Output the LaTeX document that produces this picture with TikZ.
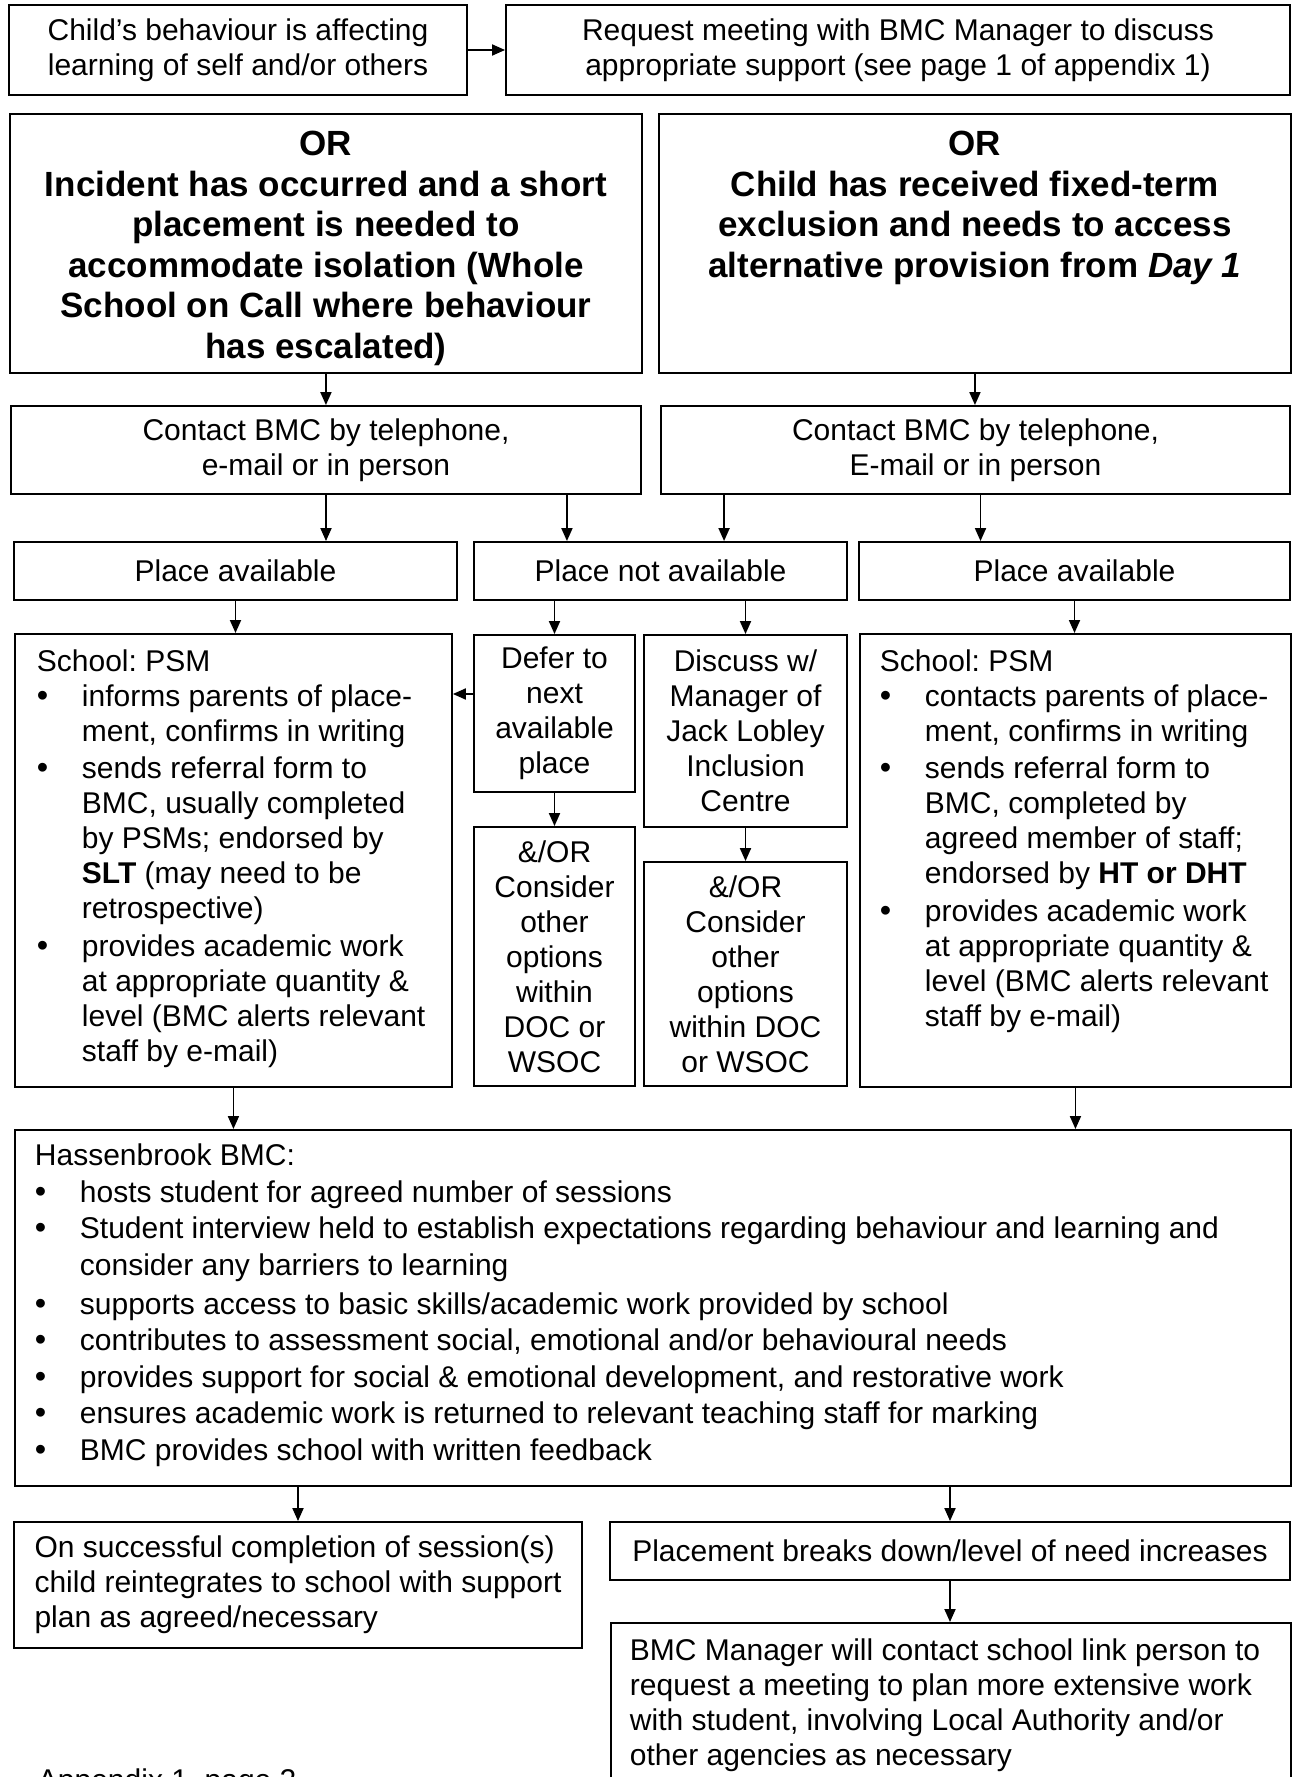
\documentclass[tikz,border=0pt]{standalone}
\usepackage{fontspec}
\setmainfont{Liberation Sans}
\usetikzlibrary{arrows.meta, calc}
\frenchspacing
\NewDocumentCommand{\bitem}{m}{\par\noindent\makebox[18pt][l]{\fontsize{13pt}{14pt}\selectfont\textbullet}\begin{tabular}[t]{@{}l@{}}#1\end{tabular}}
\NewDocumentCommand{\topfill}{mmm}{\parbox[c][#2][t]{#1}{#3}}

\begin{document}
\begin{tikzpicture}[x=0.4pt, y=-0.4pt, line width=0.75pt,
        every node/.style={font=\fontsize{12pt}{14pt}\selectfont},
        box/.style={draw, align=center, inner sep=0pt},
        panel/.style={draw, anchor=north west},
        orbox/.style={panel, inner xsep=4pt, inner ysep=7pt,
                        font=\fontsize{14pt}{16.2pt}\selectfont\bfseries},
        arr/.style={-{Triangle[width=4.4pt, length=5.2pt]}}]
        \useasboundingbox (0,0) rectangle (1294,1777);

        % first row
        \node[box, minimum width=183.2pt, minimum height=36pt] (child) at (238,50)
            {Child’s behaviour is affecting\\learning of self and/or others};
        \node[box, minimum width=313.6pt, minimum height=36pt] (request) at (898,50)
            {Request meeting with BMC Manager to discuss\\appropriate support (see page 1 of appendix 1)};

        % the two OR routes
        \node[orbox] (orL) at (9,113) {\topfill{244.8pt}{89.6pt}{\centering
            OR\\Incident has occurred and a short\\placement is needed to\\accommodate isolation (Whole\\School on Call where behaviour\\has escalated)}};
        \node[orbox] (orR) at (658,113) {\topfill{244.8pt}{89.6pt}{\centering
            OR\\Child has received fixed-term\\exclusion and needs to access\\alternative provision from \textit{Day 1}}};

        \node[box, minimum width=252pt, minimum height=35.2pt] (contL) at (326,450)
            {Contact BMC by telephone,\\e-mail or in person};
        \node[box, minimum width=251.6pt, minimum height=35.2pt] (contR) at (975.5,450)
            {Contact BMC by telephone,\\E-mail or in person};

        \node[box, minimum width=177.2pt, minimum height=23.2pt] (availL) at (235.5,571) {Place available};
        \node[box, minimum width=149.2pt, minimum height=23.2pt] (notavail) at (660.5,571) {Place not available};
        \node[box, minimum width=172.4pt, minimum height=23.2pt] (availR) at (1074.5,571) {Place available};

        % school side
        \node[panel, inner xsep=8.8pt, inner ysep=6.3pt] (schoolL) at (14,633) {\topfill{157.2pt}{168.6pt}{%
            School: PSM
            \bitem{informs parents of place-\\ment, confirms in writing}
            \bitem{sends referral form to\\BMC, usually completed\\by PSMs; endorsed by\\\textbf{SLT} (may need to be\\retrospective)}
            \bitem{provides academic work\\at appropriate quantity \&\\level (BMC alerts relevant\\staff by e-mail)}}};
        \node[panel, inner xsep=8pt, inner ysep=6.3pt] (schoolR) at (859,633) {\topfill{156.4pt}{168.6pt}{%
            School: PSM
            \bitem{contacts parents of place-\\ment, confirms in writing}
            \bitem{sends referral form to\\BMC, completed by\\agreed member of staff;\\endorsed by \textbf{HT or DHT}}
            \bitem{provides academic work\\at appropriate quantity \&\\level (BMC alerts relevant\\staff by e-mail)}}};

        % no place
        \node[box, minimum width=64.4pt, minimum height=62.8pt] (defer) at (554.5,713.5)
            {Defer to\\next\\available\\place};
        \node[box, minimum width=81.2pt, minimum height=76.8pt] (discuss) at (745.5,731)
            {Discuss w/\\Manager of\\Jack Lobley\\Inclusion\\Centre};
        \node[box, minimum width=64.4pt, minimum height=103.6pt] (optL) at (554.5,956.5)
            {\&/OR\\Consider\\other\\options\\within\\DOC or\\WSOC};
        \node[box, minimum width=81.2pt, minimum height=89.6pt] (optR) at (745.5,974)
            {\&/OR\\Consider\\other\\options\\within DOC\\or WSOC};

        % BMC
        \node[panel, inner xsep=8pt, inner ysep=5.6pt, font=\fontsize{12pt}{14.6pt}\selectfont] (hass) at (14,1129)
            {\topfill{494.4pt}{131.2pt}{%
            Hassenbrook BMC:
            \bitem{hosts student for agreed number of sessions}
            \bitem{Student interview held to establish expectations regarding behaviour and learning and\\consider any barriers to learning}
            \bitem{supports access to basic skills/academic work provided by school}
            \bitem{contributes to assessment social, emotional and/or behavioural needs}
            \bitem{provides support for social \& emotional development, and restorative work}
            \bitem{ensures academic work is returned to relevant teaching staff for marking}
            \bitem{BMC provides school with written feedback}}};

        \node[box, align=left, minimum width=227.2pt, minimum height=50.4pt] (success) at (298,1585)
            {On successful completion of session(s)\\child reintegrates to school with support\\plan as agreed/necessary};
        \node[box, align=left, minimum width=272pt, minimum height=23.2pt] (breaks) at (950,1551)
            {Placement breaks down/level of need increases};
        \node[panel, inner xsep=7.6pt, inner ysep=5.2pt] (manager) at (610,1622) {\topfill{256.8pt}{70pt}{%
            \begin{tabular}[t]{@{}l@{}}BMC Manager will contact school link person to\\request a meeting to plan more extensive work\\with student, involving Local Authority and/or\\other agencies as necessary\end{tabular}}};

        \node[anchor=base west, inner sep=0pt] (appx) at (37,1790) {Appendix 1, page 2};

        \draw[arr] (child) -- (request);
        \draw[arr] (orL.south) -- (orL.south |- contL.north);
        \draw[arr] (orR.south) -- (orR.south |- contR.north);
        \draw[arr] (contL.south) -- (contL.south |- availL.north);
        \draw[arr] ($(contL.south east)+(-75,0)$) coordinate (cl) -- (cl |- notavail.north);
        \draw[arr] ($(contR.south west)+(64,0)$) coordinate (cr) -- (cr |- notavail.north);
        \draw[arr] ($(contR.south)+(5,0)$) coordinate (cr2) -- (cr2 |- availR.north);
        \draw[arr] (availL.south) -- (availL.south |- schoolL.north);
        \draw[arr] (defer.north |- notavail.south) -- (defer.north);
        \draw[arr] (discuss.north |- notavail.south) -- (discuss.north);
        \draw[arr] (availR.south) -- (availR.south |- schoolR.north);
        \draw[arr] ($(defer.west)+(0,-19.5)$) coordinate (dw) -- (dw -| schoolL.east);
        \draw[arr] (defer.south) -- (optL.north);
        \draw[arr] (discuss.south) -- (optR.north);
        \draw[arr] (schoolL.south) -- (schoolL.south |- hass.north);
        \draw[arr] (schoolR.south) -- (schoolR.south |- hass.north);
        \draw[arr] (hass.south -| success.north) -- (success.north);
        \draw[arr] (hass.south -| breaks.north) -- (breaks.north);
        \draw[arr] (breaks.south) -- (breaks.south |- manager.north);
    \end{tikzpicture}
\end{document}
